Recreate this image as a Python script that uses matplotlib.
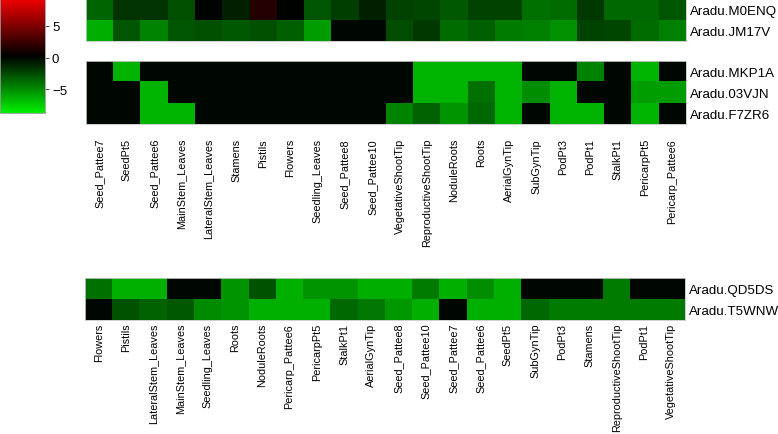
import numpy as np
import matplotlib
matplotlib.use("Agg")
import matplotlib.pyplot as plt
from matplotlib.colors import LinearSegmentedColormap, Normalize

plt.rcParams['font.family'] = ['Liberation Sans', 'DejaVu Sans']

# tissue order of the two upper panels
cols_top = ["Seed_Pattee7", "SeedPt5", "Seed_Pattee6", "MainStem_Leaves",
            "LateralStem_Leaves", "Stamens", "Pistils", "Flowers",
            "Seedling_Leaves", "Seed_Pattee8", "Seed_Pattee10",
            "VegetativeShootTip", "ReproductiveShootTip", "NoduleRoots",
            "Roots", "AerialGynTip", "SubGynTip", "PodPt3", "PodPt1",
            "StalkPt1", "PericarpPt5", "Pericarp_Pattee6"]

# tissue order of the lower panel
cols_bot = ["Flowers", "Pistils", "LateralStem_Leaves", "MainStem_Leaves",
            "Seedling_Leaves", "Roots", "NoduleRoots", "Pericarp_Pattee6",
            "PericarpPt5", "StalkPt1", "AerialGynTip", "Seed_Pattee8",
            "Seed_Pattee10", "Seed_Pattee7", "Seed_Pattee6", "SeedPt5",
            "SubGynTip", "PodPt3", "Stamens", "ReproductiveShootTip",
            "PodPt1", "VegetativeShootTip"]

genes1 = ["Aradu.M0ENQ", "Aradu.JM17V"]
vals1 = [
    [-3.5, -1.7, -1.7, -2.7, 0.1, -1.0, 1.6, 0.15, -2.9, -2.0, -1.0,
     -2.2, -2.4, -3.1, -2.2, -2.2, -4.0, -3.8, -1.9, -3.6, -3.6, -2.9],
    [-6.2, -2.9, -4.7, -2.9, -2.7, -3.1, -2.7, -3.3, -5.6, 0.0, 0.0,
     -2.6, -1.9, -3.8, -3.3, -4.3, -4.5, -5.2, -2.2, -2.4, -3.8, -4.5],
]

genes2 = ["Aradu.MKP1A", "Aradu.03VJN", "Aradu.F7ZR6"]
vals2 = [
    [0, -6.4, 0, 0, 0, 0, 0, 0, 0, 0, 0,
     0, -6.4, -6.4, -6.4, -6.4, 0, 0, -4.7, 0, -6.4, 0],
    [0, 0, -6.4, 0, 0, 0, 0, 0, 0, 0, 0,
     0, -6.4, -6.4, -4.0, -6.4, -5.0, -6.4, 0, 0, -5.6, -5.6],
    [0, 0, -6.4, -6.4, 0, 0, 0, 0, 0, 0, 0,
     -4.7, -3.4, -5.3, -3.6, -6.4, 0, -6.4, -6.4, 0, -6.4, 0],
]

genes3 = ["Aradu.QD5DS", "Aradu.T5WNW"]
vals3 = [
    [-4.0, -6.3, -6.3, 0, 0, -5.3, -2.8, -6.3, -5.3, -5.3, -6.2,
     -6.2, -4.3, -6.3, -5.0, -6.3, 0, 0, 0, -4.3, 0, 0],
    [0, -2.8, -3.4, -3.1, -4.9, -5.3, -6.3, -6.3, -6.3, -3.6, -4.2,
     -5.4, -6.3, 0, -6.3, -6.3, -3.6, -4.3, -4.3, -4.3, -4.3, -4.3],
]

cb_ticks = [-5, 0, 5]
vmin, vmax = -8.7, 9.2

W, H = 778, 435
cmap = LinearSegmentedColormap.from_list("gbr", ["#00f000", "#000000", "#f00000"])
norm = Normalize(vmin=vmin, vmax=vmax)

fig = plt.figure(figsize=(W / 100, H / 100), dpi=100)


def box(x0, y0, x1, y1):
    return [x0 / W, 1 - y1 / H, (x1 - x0) / W, (y1 - y0) / H]


def panel(rect, vals, genes, cols, pad, show_cols=True):
    ax = fig.add_axes(box(*rect))
    im = ax.imshow(np.array(vals), cmap=cmap, norm=norm, aspect='auto',
                   interpolation='nearest')
    if show_cols:
        ax.set_xticks(range(len(cols)))
        ax.set_xticklabels(cols, rotation=90, fontsize=7.8, va='top', ha='center')
    else:
        ax.set_xticks([])
    ax.set_yticks(range(len(genes)))
    ax.set_yticklabels(genes, fontsize=9.6)
    ax.yaxis.tick_right()
    ax.tick_params(axis='x', length=0, pad=pad)
    ax.tick_params(axis='y', length=0, pad=3)
    for s in ax.spines.values():
        s.set_color('#c8c8c8')
        s.set_linewidth(0.6)
    return im


im = panel((86, 0, 686, 42), vals1, genes1, cols_top, 0, show_cols=False)
panel((86, 62, 686, 125), vals2, genes2, cols_top, 10)
panel((85, 279, 685, 321), vals3, genes3, cols_bot, 2)

cax = fig.add_axes(box(0, 0, 45, 114))
cb = fig.colorbar(im, cax=cax, ticks=cb_ticks)
cb.outline.set_edgecolor('#999999')
cb.outline.set_linewidth(0.6)
cax.tick_params(labelsize=9.5, length=3, width=0.6, pad=2, color='#333333')

fig.savefig("out.png", dpi=100)
